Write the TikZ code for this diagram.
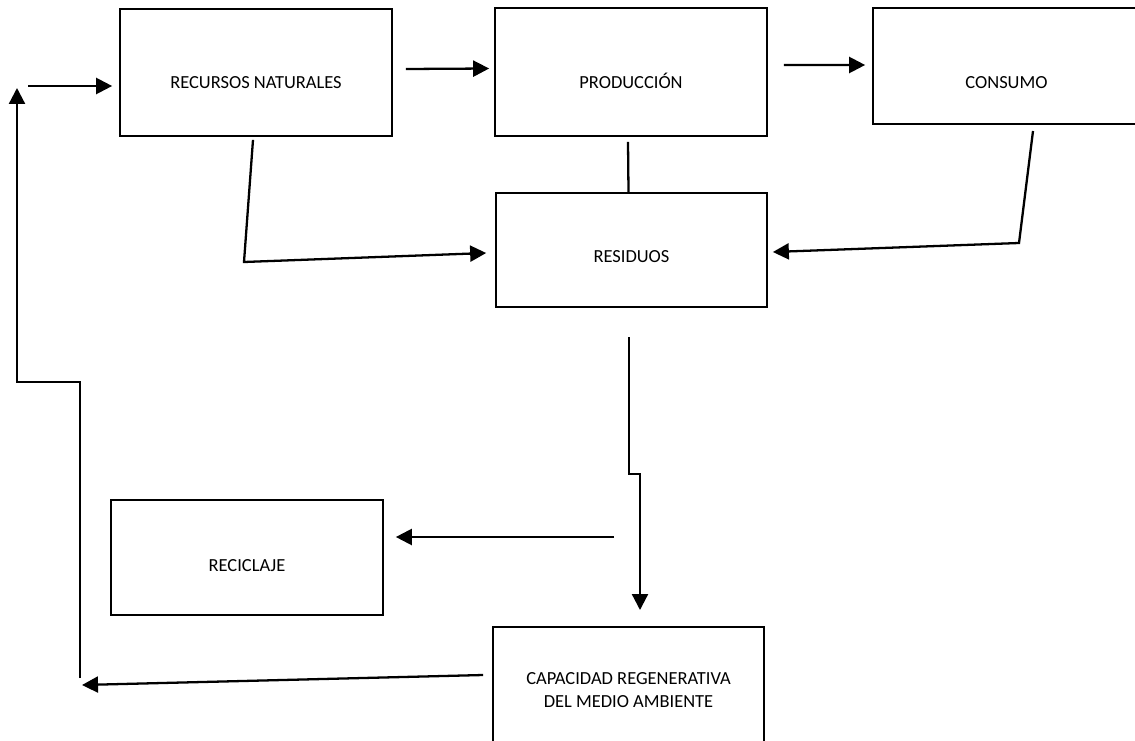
\documentclass[tikz,border=0pt]{standalone}
\usepackage{fontspec}
\setmainfont{Carlito}
\usetikzlibrary{arrows.meta}

\begin{document}
\begin{tikzpicture}[x=0.02cm,y=-0.02cm,
	caja/.style={draw,line width=1pt,inner sep=0pt,text depth=0pt,align=center,
		font=\fontsize{10.5}{13}\selectfont},
	flecha/.style={line width=1.3pt,-{Triangle[length=0.32cm,width=0.32cm]}},
	linea/.style={line width=1.3pt}]
	\useasboundingbox (0,0) rectangle (1135,740);
	\clip (0,0) rectangle (1135,740);

	\node[caja,minimum width=5.44cm,minimum height=2.54cm,text height=0.66cm] (recursos) at (256,72.5) {RECURSOS NATURALES};
	\node[caja,minimum width=5.44cm,minimum height=2.56cm,text height=0.68cm] (produccion) at (631,72) {PRODUCCIÓN};
	\node[caja,minimum width=5.34cm,minimum height=2.32cm,text height=0.92cm] (consumo) at (1006.5,66) {CONSUMO};
	\node[caja,minimum width=5.42cm,minimum height=2.28cm,text height=0.52cm] (residuos) at (631.5,250) {RESIDUOS};
	\node[caja,minimum width=5.44cm,minimum height=2.30cm,text height=0.54cm] (reciclaje) at (247,557.5) {RECICLAJE};
	\node[caja,minimum width=5.42cm,minimum height=2.52cm,text depth=0pt] (capacidad) at (628.5,690) {CAPACIDAD REGENERATIVA\\DEL MEDIO AMBIENTE};

	% puntos libres de las flechas
	\coordinate (entrada) at (28,86);
	\coordinate (r0) at (82,685);
	\coordinate (r1) at (80,678);
	\coordinate (r2) at (80,382);
	\coordinate (r3) at (17,382);
	\coordinate (r4) at (17,88);
	\coordinate (n1) at (244,262);
	\coordinate (c1) at (1033,131);
	\coordinate (c2) at (1019,243);
	\coordinate (d1) at (629,337);
	\coordinate (d2) at (629,474);
	\coordinate (d3) at (640,474);
	\coordinate (d4) at (640,610);
	\coordinate (s1) at (614,537);

	\draw[flecha] (entrada) -- ([xshift=-0.14cm]entrada -| recursos.west);
	\draw[flecha] ([xshift=0.26cm,yshift=0.07cm]recursos.east) -- ([xshift=-0.1cm,yshift=0.07cm]produccion.west);
	\draw[flecha] ([xshift=0.32cm,yshift=0.14cm]produccion.east) -- ([xshift=-0.14cm,yshift=0.02cm]consumo.west);
	\draw[linea] ([xshift=-0.06cm,yshift=-0.1cm]produccion.south) -- ([xshift=-0.06cm]residuos.north);
	\draw[flecha] ([xshift=-0.06cm,yshift=-0.06cm]recursos.south) -- (n1) -- ([xshift=-0.18cm,yshift=-0.06cm]residuos.west);
	\draw[flecha] (c1) -- (c2) -- ([xshift=0.1cm,yshift=-0.04cm]residuos.east);
	\draw[flecha] (d1) -- (d2) -- (d3) -- (d4);
	\draw[flecha] (s1) -- ([xshift=0.24cm]s1 -| reciclaje.east);
	\draw[flecha] ([xshift=-0.18cm,yshift=0.3cm]capacidad.west) -- (r0);
	\draw[flecha] (r1) -- (r2) -- (r3) -- (r4);
\end{tikzpicture}
\end{document}
